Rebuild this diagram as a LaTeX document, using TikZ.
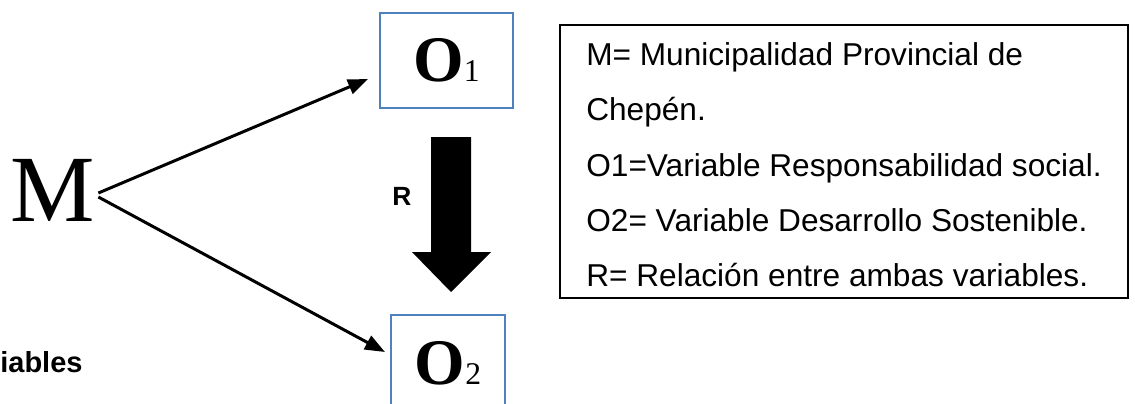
\documentclass[tikz,border=0pt]{standalone}
\usepackage{fontspec}
\setmainfont{Liberation Serif}
\newfontfamily\arialfont{Liberation Sans}
\usetikzlibrary{arrows.meta}
\definecolor{boxblue}{RGB}{79,129,189}
\tikzset{
    obs-box/.style = {draw=boxblue, line width=1.1pt, rectangle, inner sep=0pt, font=\fontsize{37}{37}\selectfont\bfseries},
    legend-box/.style = {draw=black, line width=1.2pt, rectangle, inner sep=0pt, minimum width=11.36cm, minimum height=5.46cm},
    legend-text/.style = {inner sep=0pt, align=left, font=\arialfont\fontsize{18}{31.5}\selectfont},
    link-arrow/.style = {line width=1.7pt, -{Triangle[length=0.4cm, width=0.3cm]}},
}

\begin{document}
\begin{tikzpicture}[x=0.02cm, y=-0.02cm]
\useasboundingbox (0,0) rectangle (1135,403);
\node [font=\fontsize{54}{54}\selectfont] (sample) at (53,190) {M};
\node [obs-box, minimum width=2.66cm, minimum height=1.9cm] (obs1) at (446.5,60.5) {O{\fontsize{18}{18}\selectfont\mdseries 1}};
\node [obs-box, minimum width=2.28cm, minimum height=1.92cm] (obs2) at (448,363) {O{\fontsize{18}{18}\selectfont\mdseries 2}};
\coordinate (tip1) at (368,79);
\coordinate (tip2) at (385,352);
\draw [link-arrow] (sample.east) ++(-3,3) -- (tip1);
\draw [link-arrow] (sample.east) ++(-3,7) -- (tip2);
% relacion entre O1 y O2
\fill (431,137) -- (471,137) -- (471,252) -- (491,252) -- (451,292) -- (412,252) -- (431,252) -- cycle;
\node [font=\arialfont\bfseries\fontsize{15}{15}\selectfont] (rel) at (402,196) {R};
\node [legend-box] (legend) at (844,161.5) {};
\node [legend-text] (legend-lines) at (844,165) {M= Municipalidad Provincial de\\Chep\'en.\\O1=Variable Responsabilidad social.\\O2= Variable Desarrollo Sostenible.\\R= Relaci\'on entre ambas variables.};
\node [anchor=base west, inner sep=0pt, font=\arialfont\bfseries\fontsize{16.5}{16.5}\selectfont] (varlabel) at (0,372) {iables};
\end{tikzpicture}
\end{document}
